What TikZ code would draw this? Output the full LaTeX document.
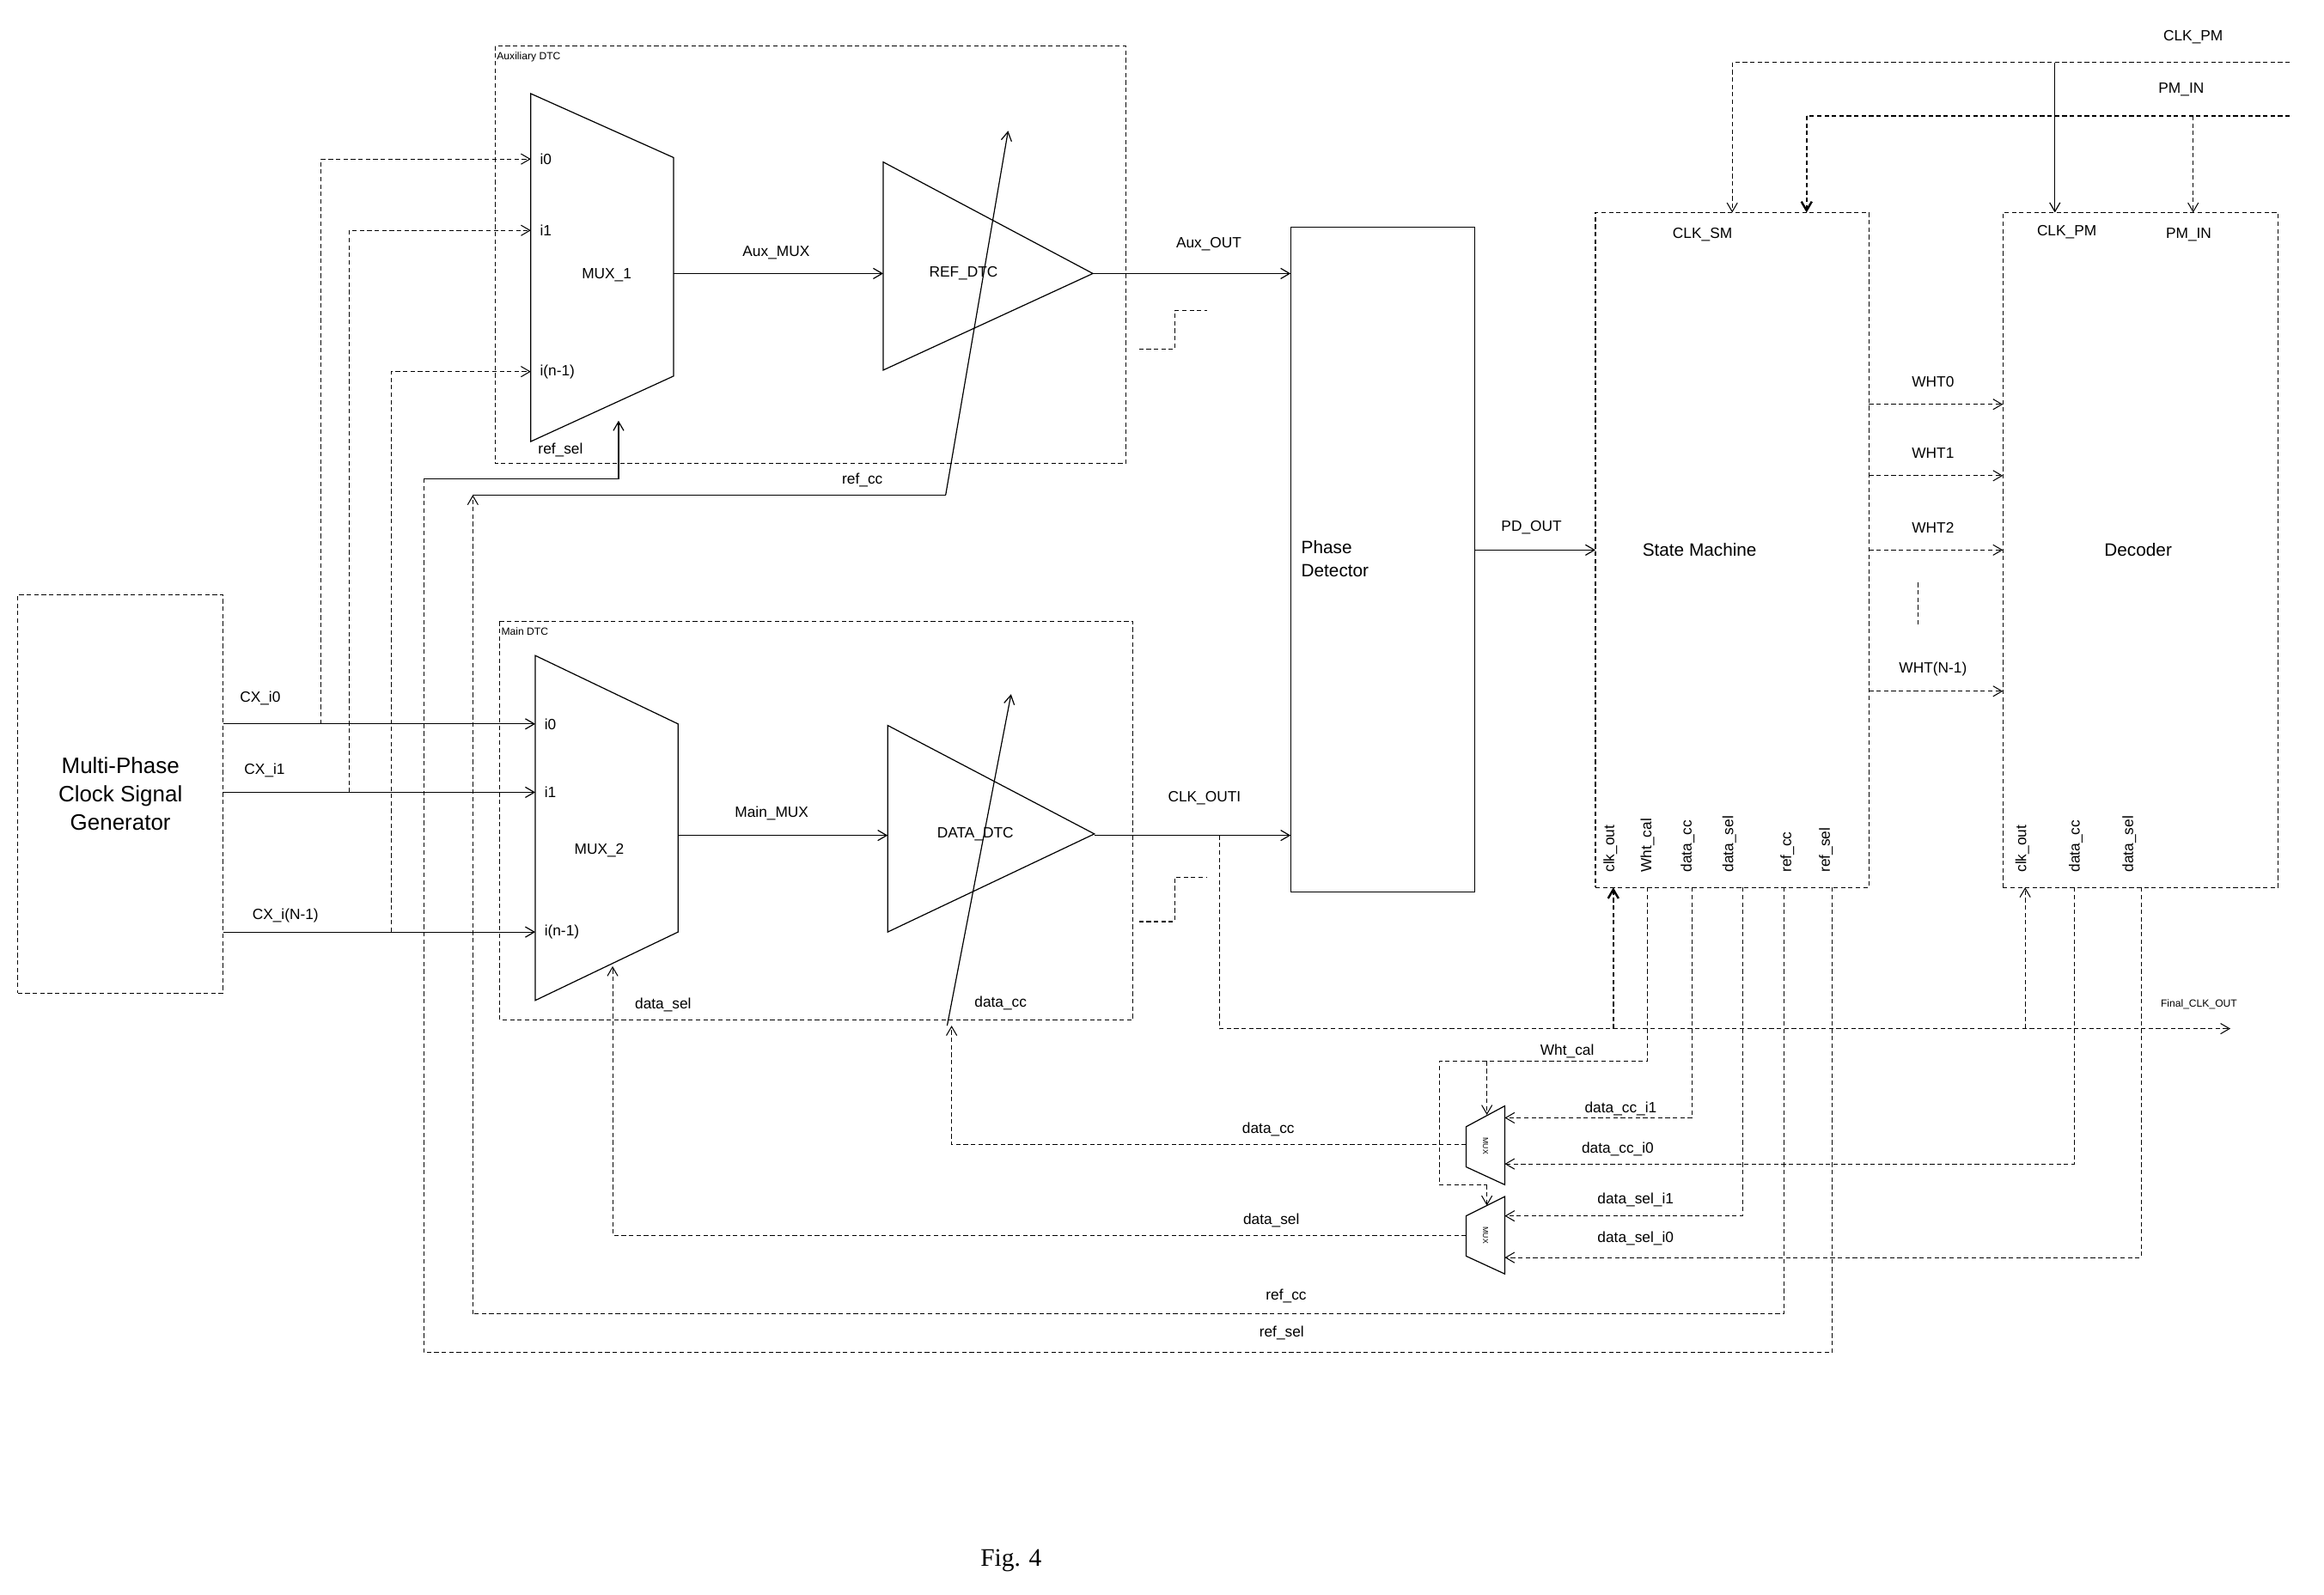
\documentclass[tikz,border=0pt]{standalone}
\usepackage{fontspec}
\setmainfont{Liberation Sans}
\newfontfamily\figfont{Liberation Serif}
\usetikzlibrary{arrows.meta}
\begin{document}
\begin{tikzpicture}[x=1pt,y=-1pt,
  dl/.style={densely dashed,line width=0.6pt},
  sl/.style={line width=0.7pt},
  tl/.style={densely dashed,line width=1.4pt},
  ar/.style={-{Straight Barb[length=6pt,width=7pt]}},
  box/.style={draw,densely dashed,line width=0.6pt},
  lab/.style={font=\fontsize{10}{12}\selectfont,inner sep=1pt},
  sm/.style={font=\fontsize{7}{8}\selectfont,inner sep=1pt,anchor=north west}]
\useasboundingbox[fill=white] (0,0) rectangle (1563,1073);
% generator
\node[box,minimum width=138,minimum height=268,align=center,font=\fontsize{15}{19}\selectfont] (gen) at (81,534) {Multi-Phase\\Clock Signal\\Generator};
% Aux DTC
\draw[box] (333,31) rectangle (757,312);
\node[sm] (auxl) at (333,34) {Auxiliary DTC};
\draw[sl] (357,63) -- (453,106) -- (453,253) -- (357,297) -- cycle;
\node[lab] (mux1) at (408,185) {MUX\_1};
\node[lab,anchor=west] (m1i0) at (362,107) {i0};
\node[lab,anchor=west] (m1i1) at (362,155) {i1};
\node[lab,anchor=west] (m1in) at (362,250) {i(n-1)};
\draw[sl] (594,109) -- (735,184) -- (594,249) -- cycle;
\node[lab] (refdtc) at (648,184) {REF\_DTC};
\coordinate (rdb) at (636,333); \coordinate (rdt) at (678,88);
\draw[sl,ar] (rdb) -- (rdt);
\node[lab] (refsell) at (377,303) {ref\_sel};
\node[lab] (refccl) at (580,323) {ref\_cc};
% Main DTC
\draw[box] (336,418) rectangle (762,686);
\node[sm] (mainl) at (336,421) {Main DTC};
\draw[sl] (360,441) -- (456,487) -- (456,627) -- (360,673) -- cycle;
\node[lab] (mux2) at (403,572) {MUX\_2};
\node[lab,anchor=west] (m2i0) at (365,487) {i0};
\node[lab,anchor=west] (m2i1) at (365,533) {i1};
\node[lab,anchor=west] (m2in) at (365,627) {i(n-1)};
\draw[sl] (597,488) -- (736,561) -- (597,627) -- cycle;
\node[lab] (datadtc) at (656,561) {DATA\_DTC};
\coordinate (ddb) at (637,690); \coordinate (ddt) at (680,467);
\draw[sl,ar] (ddb) -- (ddt);
\node[lab] (dsell) at (446,676) {data\_sel};
\node[lab] (dccl) at (673,675) {data\_cc};
% generator outputs
\draw[sl,ar] (150,487) -- (360,487); \node[lab] at (175,470) {CX\_i0};
\draw[sl,ar] (150,533) -- (360,533); \node[lab] at (178,518) {CX\_i1};
\draw[sl,ar] (150,627) -- (360,627); \node[lab] at (192,616) {CX\_i(N-1)};
\draw[dl,ar] (216,487) -- (216,107) -- (357,107);
\draw[dl,ar] (235,533) -- (235,155) -- (357,155);
\draw[dl,ar] (263,627) -- (263,250) -- (357,250);
% mux -> dtc
\draw[sl,ar] (453,184) -- (594,184); \node[lab] at (522,170) {Aux\_MUX};
\draw[sl,ar] (456,562) -- (597,562); \node[lab] at (519,547) {Main\_MUX};
% phase detector
\node[draw,sl,minimum width=124,minimum height=447] (pd) at (930,376.5) {};
\node[lab,anchor=west,align=left,font=\fontsize{12}{16}\selectfont] at (874,376) {Phase\\Detector};
\draw[sl,ar] (735,184) -- (868,184); \node[lab] at (813,164) {Aux\_OUT};
\draw[sl,ar] (736,562) -- (868,562); \node[lab] at (810,537) {CLK\_OUTI};
\draw[dl] (766,235) -- (790,235) -- (790,209) -- (812,209);
\draw[dl] (766,620) -- (790,620) -- (790,590) -- (812,590);
% state machine
\node[box,minimum width=184,minimum height=454] (smb) at (1165,370) {};
\node[lab,font=\fontsize{12}{14}\selectfont] at (1143,370) {State Machine};
\node[lab] at (1145,158) {CLK\_SM};
\draw[sl,ar] (992,370) -- (1073,370); \node[lab] at (1030,355) {PD\_OUT};
\foreach \x/\t in {1083/clk\_out,1108/Wht\_cal,1135/data\_cc,1163/data\_sel,1202/ref\_cc,1228/ref\_sel}
  \node[lab,rotate=90,anchor=west] at (\x,588) {\t};
% decoder
\node[box,minimum width=185,minimum height=454] (dec) at (1439.5,370) {};
\node[lab,font=\fontsize{12}{14}\selectfont] at (1438,370) {Decoder};
\node[lab] at (1390,156) {CLK\_PM};
\node[lab] at (1472,158) {PM\_IN};
\foreach \x/\t in {1360/clk\_out,1396/data\_cc,1432/data\_sel}
  \node[lab,rotate=90,anchor=west] at (\x,588) {\t};
\foreach \y/\t in {272/WHT0,320/WHT1,370/WHT2,465/WHT(N-1)} {
  \draw[dl,ar] (1257,\y) -- (1347,\y);
  \node[lab] at (1300,\y-15) {\t};}
\draw[dl] (1290,392) -- (1290,420);
% top inputs
\draw[dl] (1540,42) -- (1165,42); \draw[dl,ar] (1165,42) -- (1165,143);
\draw[sl,ar] (1382,42) -- (1382,143);
\node[lab] at (1475,25) {CLK\_PM};
\draw[dl] (1540,78) -- (1475,78);
\draw[tl] (1475,78) -- (1215,78); \draw[tl,ar] (1215,78) -- (1215,143);
\draw[dl,ar] (1475,78) -- (1475,143);
\node[lab] at (1467,60) {PM\_IN};
% final clk out
\draw[dl,ar] (820,562) -- (820,692) -- (1500,692);
\node[sm,anchor=south west] at (1452,680) {Final\_CLK\_OUT};
\draw[tl,ar] (1085,692) -- (1085,597);
\draw[dl,ar] (1362,692) -- (1362,597);
% small muxes
\draw[sl] (986,758) -- (1012,744) -- (1012,797) -- (986,785) -- cycle;
\node[font=\fontsize{5}{6}\selectfont,rotate=-90] at (999,771) {MUX};
\draw[sl] (986,818) -- (1012,805) -- (1012,857) -- (986,845) -- cycle;
\node[font=\fontsize{5}{6}\selectfont,rotate=-90] at (999,831) {MUX};
% Wht_cal
\draw[dl] (1108,597) -- (1108,714) -- (968,714) -- (968,797) -- (1000,797);
\draw[dl,ar] (1000,714) -- (1000,750);
\draw[dl,ar] (1000,797) -- (1000,811);
\node[lab] at (1054,707) {Wht\_cal};
% mux inputs
\draw[dl,ar] (1138,597) -- (1138,752) -- (1012,752); \node[lab] at (1090,746) {data\_cc\_i1};
\draw[dl,ar] (1395,597) -- (1395,783) -- (1012,783); \node[lab] at (1088,773) {data\_cc\_i0};
\draw[dl,ar] (1172,597) -- (1172,818) -- (1012,818); \node[lab] at (1100,807) {data\_sel\_i1};
\draw[dl,ar] (1440,597) -- (1440,846) -- (1012,846); \node[lab] at (1100,833) {data\_sel\_i0};
% mux outputs
\draw[dl,ar] (986,770) -- (640,770) -- (640,690); \node[lab] at (853,760) {data\_cc};
\draw[dl,ar] (986,831) -- (412,831) -- (412,650); \node[lab] at (855,821) {data\_sel};
% ref lines
\draw[dl] (1200,597) -- (1200,884) -- (318,884);
\draw[dl,ar] (318,884) -- (318,333);
\draw[sl] (318,333) -- (rdb);
\node[lab] at (865,872) {ref\_cc};
\draw[dl] (1232,597) -- (1232,910) -- (285,910) -- (285,322);
\draw[sl,ar] (285,322) -- (416,322) -- (416,283);
\node[lab] at (862,897) {ref\_sel};
\node[font=\figfont\fontsize{17}{20}\selectfont] at (680,1050) {Fig. 4};
\end{tikzpicture}
\end{document}
